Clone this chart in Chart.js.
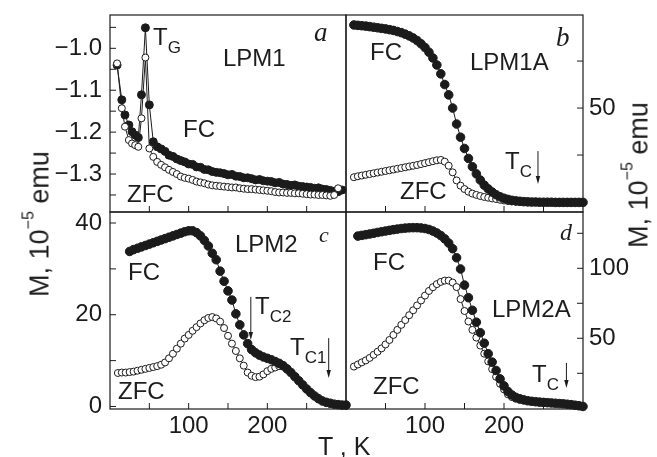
<!DOCTYPE html>
<html>
<head>
<meta charset="utf-8">
<script src="https://cdn.jsdelivr.net/npm/chart.js@4.4.1/dist/chart.umd.min.js"></script>
<style>
  html, body { margin: 0; padding: 0; background: #fff; }
  #page { position: relative; width: 657px; height: 457px; overflow: hidden; }
  #page canvas { position: absolute; left: 0; top: 0; }
  .lbl { position: absolute; font-family: 'Liberation Sans', Arial, sans-serif; font-size: 24px; line-height: 1; color: #1d1d1d; white-space: nowrap; }
  .lbl .sb { font-size: 17px; position: relative; top: 8px; }
  .it { font-family: 'Liberation Serif', serif; font-style: italic; font-size: 27px; }
  .ytitle { font-size: 27px; transform: translate(-50%, -50%) rotate(-90deg); }
  .ytitle .sp { font-size: 16px; position: relative; top: -15px; }
</style>
</head>
<body>
<div id="page">
  <canvas id="pa" width="657" height="457"></canvas>
  <canvas id="pb" width="657" height="457"></canvas>
  <canvas id="pc" width="657" height="457"></canvas>
  <canvas id="pd" width="657" height="457"></canvas>

  <!-- panel a -->
  <div class="lbl" style="left:153px;top:25px">T<span class="sb">G</span></div>
  <div class="lbl" style="left:223px;top:46px">LPM1</div>
  <div class="lbl it" style="left:314px;top:19px">a</div>
  <div class="lbl" style="left:183px;top:117px">FC</div>
  <div class="lbl" style="left:127px;top:182px">ZFC</div>
  <!-- panel b -->
  <div class="lbl" style="left:370px;top:40px">FC</div>
  <div class="lbl" style="left:470px;top:50px">LPM1A</div>
  <div class="lbl it" style="left:556px;top:24px">b</div>
  <div class="lbl" style="left:400px;top:179px">ZFC</div>
  <div class="lbl" style="left:505px;top:149px">T<span class="sb">C</span></div>
  <!-- panel c -->
  <div class="lbl" style="left:235px;top:232px">LPM2</div>
  <div class="lbl it" style="left:319px;top:224px;font-size:22px">c</div>
  <div class="lbl" style="left:128px;top:260px">FC</div>
  <div class="lbl" style="left:118px;top:379px">ZFC</div>
  <div class="lbl" style="left:255px;top:294px">T<span class="sb">C2</span></div>
  <div class="lbl" style="left:290px;top:335px">T<span class="sb">C1</span></div>
  <!-- panel d -->
  <div class="lbl" style="left:373px;top:250px">FC</div>
  <div class="lbl it" style="left:560px;top:220px;font-size:24px">d</div>
  <div class="lbl" style="left:492px;top:297px">LPM2A</div>
  <div class="lbl" style="left:373px;top:374px">ZFC</div>
  <div class="lbl" style="left:532px;top:362px">T<span class="sb">C</span></div>

  <!-- axis titles -->
  <div class="lbl ytitle" style="left:40px;top:224px">M, 10<span class="sp">−5</span> emu</div>
  <div class="lbl ytitle" style="left:639px;top:175px">M, 10<span class="sp">−5</span> emu</div>
  <div class="lbl" style="left:318px;top:434px;font-size:25px">T , K</div>
</div>

<script>
var ink = "#1b1b1b";
Chart.defaults.font.family = "'Liberation Sans', Arial, sans-serif";
Chart.defaults.color = ink;

// temperatures, K
const tempA = [9, 15, 19, 24, 28, 32, 36, 40, 45, 50, 55, 60, 65, 70, 75, 80, 85, 90, 95, 100,
  105, 110, 115, 120, 125, 130, 135, 140, 145, 150, 155, 160, 165, 170, 175, 180, 185, 190, 195, 200,
  205, 210, 215, 220, 225, 230, 235, 240, 245, 250, 255, 260, 265, 270, 275, 280, 285, 290, 295];
const tempGrid = [10, 15, 20, 25, 30, 35, 40, 45, 50, 55, 60, 65, 70, 75, 80, 85, 90, 95, 100, 105,
  110, 115, 120, 125, 130, 135, 140, 145, 150, 155, 160, 165, 170, 175, 180, 185, 190, 195, 200, 205,
  210, 215, 220, 225, 230, 235, 240, 245, 250, 255, 260, 265, 270, 275, 280, 285, 290, 295, 300];

// LPM1 (panel a)
const fcA = [-1.040, -1.123, -1.159, -1.183, -1.199, -1.207, -1.213, -1.111, -0.951, -1.135, -1.223,
  -1.235, -1.240, -1.246, -1.255, -1.258, -1.264, -1.268, -1.271, -1.276,
  -1.277, -1.283, -1.284, -1.289, -1.290, -1.294, -1.296, -1.297, -1.299, -1.302,
  -1.301, -1.305, -1.306, -1.309, -1.309, -1.311, -1.314, -1.313, -1.316, -1.317,
  -1.318, -1.321, -1.320, -1.324, -1.325, -1.327, -1.326, -1.329, -1.330, -1.331,
  -1.332, -1.334, -1.333, -1.336, -1.337, -1.339, -1.341, -1.342, -1.338];
const zfcA = [-1.036, -1.143, -1.187, -1.219, -1.227, -1.231, -1.235, -1.167, -1.022, -1.239, -1.259,
  -1.271, -1.278, -1.284, -1.290, -1.295, -1.300, -1.306, -1.309, -1.311,
  -1.314, -1.318, -1.320, -1.322, -1.325, -1.327, -1.328, -1.329, -1.330, -1.331,
  -1.332, -1.332, -1.334, -1.335, -1.336, -1.336, -1.337, -1.338, -1.339, -1.340,
  -1.341, -1.343, -1.344, -1.344, -1.345, -1.345, -1.346, -1.346, -1.347, -1.348,
  -1.349, -1.349, -1.350, -1.350, -1.351, -1.352, -1.350, -1.334];

// LPM1A (panel b)
const fcB = [94.2, 94.0, 93.8, 93.6, 93.3, 93.0, 92.7, 92.4, 92.1, 91.7,
  91.3, 90.7, 90.1, 89.3, 88.4, 87.3, 85.9, 84.2, 82.2, 79.7,
  76.6, 72.9, 68.2, 62.5, 57.0, 50.0, 41.5, 34.5, 28.5, 23.2,
  18.8, 15.0, 11.7, 9.0, 7.0, 5.3, 3.9, 2.8, 2.0, 1.4,
  0.9, 0.6, 0.4, 0.2, 0.1, 0.0, 0.0, -0.1, -0.1, -0.1,
  -0.1, -0.2, -0.2, -0.2, -0.2, -0.2, -0.2, -0.2, -0.2];
const zfcB = [13.2, 13.7, 14.1, 14.5, 14.9, 15.3, 15.7, 16.1, 16.5, 16.9,
  17.3, 17.7, 18.1, 18.5, 18.9, 19.3, 19.7, 20.2, 20.7, 21.2,
  21.7, 22.2, 22.4, 21.5, 19.3, 15.8, 11.5, 8.7, 6.9, 5.5,
  4.5, 3.8, 3.2, 2.7, 2.3, 1.9, 1.6, 1.2, 0.8, 0.5,
  0.3, 0.2, 0.1];

// LPM2 (panel c)
const fcC = [null, null, null, 33.8, 34.2, 34.5, 34.8, 35.1, 35.4, 35.7,
  36.0, 36.3, 36.6, 36.9, 37.2, 37.5, 37.8, 38.1, 38.3, 38.3,
  37.9, 37.2, 36.2, 35.0, 33.4, 32.0, 29.5, 27.3, 25.2, 23.2,
  20.2, 17.8, 15.6, 13.7, 12.4, 11.7, 11.2, 10.8, 10.5, 10.2,
  9.8, 9.4, 8.9, 8.2, 7.4, 6.5, 5.6, 4.7, 3.8, 3.0,
  2.3, 1.7, 1.2, 0.9, 0.7, 0.5, 0.4, 0.3, 0.3];
const zfcC = [7.3, 7.4, 7.4, 7.5, 7.6, 7.8, 8.0, 8.2, 8.4, 8.6,
  8.8, 9.1, 9.6, 10.5, 11.5, 12.6, 13.7, 14.8, 15.6, 16.5,
  17.3, 18.1, 18.8, 19.3, 19.5, 19.2, 18.5, 17.1, 15.4, 13.7,
  12.1, 10.5, 8.9, 7.4, 6.7, 6.4, 6.5, 7.0, 7.7, 8.2,
  8.5, 8.8, 8.8];

// LPM2A (panel d)
const fcD = [null, 123.0, 123.5, 124.0, 124.5, 125.0, 125.6, 126.1, 126.6, 127.1,
  127.6, 128.0, 128.4, 128.7, 128.9, 129.0, 129.0, 128.8, 128.4, 127.7,
  126.6, 125.2, 123.4, 121.0, 118.0, 114.0, 107.5, 99.5, 88.0, 79.0,
  70.0, 61.5, 54.0, 46.5, 39.0, 33.0, 27.0, 21.0, 16.0, 12.0,
  9.5, 7.8, 6.8, 6.0, 5.4, 5.0, 4.7, 4.4, 4.2, 4.0,
  3.8, 3.6, 3.4, 3.2, 2.9, 2.6, 2.2, 1.8, 1.3];
const zfcD = [29.8, 31.3, 32.8, 34.2, 36.0, 38.2, 40.4, 42.8, 45.6, 48.8,
  52.4, 56.0, 59.6, 63.0, 66.5, 70.0, 73.5, 77.0, 80.5, 83.8,
  86.5, 88.7, 90.3, 91.2, 91.2, 89.8, 86.6, 78.0, 69.5, 62.0,
  56.0, 50.5, 44.8, 39.0, 33.5, 28.0, 22.5, 17.5, 13.5, 10.0,
  8.0, 6.8, 6.0];

// axis ticks (all drawn inward), and which of them carry a number
const xTicks = [50, 100, 150, 200, 250];
const xLabelled = [100, 200];
const yTicksA = [-1.35, -1.3, -1.25, -1.2, -1.15, -1.1, -1.05, -1.0, -0.95];
const yLabelledA = [-1.3, -1.2, -1.1, -1.0];
const yTicksB = [25, 50, 75];
const yLabelledB = [50];
const yTicksC = [0, 10, 20, 30, 40];
const yLabelledC = [0, 20, 40];
const yTicksD = [25, 50, 75, 100, 125];
const yLabelledD = [50, 100];

// T_C arrows: temperature, top and bottom in M units
const arrowsB = [{ t: 243, from: 27.1, to: 9.6 }];
const arrowsC = [{ t: 179, from: 23.9, to: 14.5 }, { t: 278, from: 14.9, to: 6.2 }];
const arrowsD = [{ t: 279, from: 32.4, to: 14.5 }];

const W = 657, H = 457;

const panelFrame = {
  id: "panelFrame",
  beforeDatasetsDraw(chart) {
    const { ctx, chartArea: a } = chart;
    const xs = chart.scales.x, ys = chart.scales.y;
    ctx.save();
    ctx.strokeStyle = ink;
    ctx.lineWidth = 1.2;
    ctx.strokeRect(a.left, a.top, a.right - a.left, a.bottom - a.top);
    ctx.lineWidth = 1;
    ctx.beginPath();
    xs.ticks.forEach((t) => {
      const px = xs.getPixelForValue(t.value);
      ctx.moveTo(px, a.bottom);
      ctx.lineTo(px, a.bottom - 6);
    });
    const onLeft = ys.position === "left";
    ys.ticks.forEach((t) => {
      const py = ys.getPixelForValue(t.value);
      const x0 = onLeft ? a.left : a.right;
      ctx.moveTo(x0, py);
      ctx.lineTo(x0 + (onLeft ? 6 : -6), py);
    });
    ctx.stroke();
    ctx.restore();
  },
  afterDatasetsDraw(chart, args, opts) {
    const { ctx } = chart;
    const xs = chart.scales.x, ys = chart.scales.y;
    (opts.arrows || []).forEach((ar) => {
      const px = xs.getPixelForValue(ar.t);
      const y0 = ys.getPixelForValue(ar.from);
      const y1 = ys.getPixelForValue(ar.to);
      ctx.save();
      ctx.strokeStyle = ink;
      ctx.fillStyle = ink;
      ctx.lineWidth = 1;
      ctx.beginPath();
      ctx.moveTo(px, y0);
      ctx.lineTo(px, y1 - 6);
      ctx.stroke();
      ctx.beginPath();
      ctx.moveTo(px - 2.2, y1 - 8);
      ctx.lineTo(px + 2.2, y1 - 8);
      ctx.lineTo(px, y1);
      ctx.closePath();
      ctx.fill();
      ctx.restore();
    });
  },
};

function series(temps, vals, filled, r) {
  return {
    data: vals.map((v, i) => ({ x: temps[i], y: v })),
    borderColor: ink,
    borderWidth: 1,
    pointRadius: r,
    pointBackgroundColor: filled ? ink : "#fff",
    pointBorderColor: ink,
    pointBorderWidth: 1,
    tension: 0,
    clip: false,
  };
}

// the scales must not push the plot area around: sizes are fixed
function noPad(s) {
  s.paddingTop = 0;
  s.paddingBottom = 0;
  s.paddingLeft = 0;
  s.paddingRight = 0;
}

function makePanel(id, area, yPos, yMin, yMax, yTicks, yLabelled, fmt, showX, datasets, arrows) {
  return new Chart(document.getElementById(id), {
    type: "line",
    data: { datasets: datasets },
    options: {
      responsive: false,
      animation: false,
      devicePixelRatio: 1,
      layout: {
        autoPadding: false,
        padding: {
          left: yPos === "left" ? 0 : area.left,
          right: yPos === "right" ? 0 : W - area.right,
          top: area.top,
          bottom: 0,
        },
      },
      plugins: {
        legend: { display: false },
        tooltip: { enabled: false },
        panelFrame: { arrows: arrows },
      },
      scales: {
        x: {
          type: "linear",
          position: "bottom",
          min: 0,
          max: 300,
          grid: { display: false, drawTicks: false },
          border: { display: false },
          afterBuildTicks: (s) => { s.ticks = xTicks.map((v) => ({ value: v })); },
          afterFit: (s) => { s.height = H - area.bottom; noPad(s); },
          ticks: {
            display: showX,
            autoSkip: false,
            padding: 3,
            font: { size: 24 },
            maxRotation: 0,
            callback: (v) => (xLabelled.includes(v) ? String(v) : ""),
          },
        },
        y: {
          type: "linear",
          position: yPos,
          min: yMin,
          max: yMax,
          grid: { display: false, drawTicks: false },
          border: { display: false },
          afterBuildTicks: (s) => { s.ticks = yTicks.map((v) => ({ value: v })); },
          afterFit: (s) => { s.width = yPos === "left" ? area.left : W - area.right; noPad(s); },
          ticks: {
            autoSkip: false,
            padding: yPos === "left" ? 8 : 6,
            font: { size: 24 },
            callback: (v) => (yLabelled.includes(v) ? fmt(v) : ""),
          },
        },
      },
    },
    plugins: [panelFrame],
  });
}

const minus = (v) => (v < 0 ? "\u2212" : "") + Math.abs(v).toFixed(1);
const plain = (v) => String(v);

makePanel("pa", { left: 110, right: 346, top: 15, bottom: 212 }, "left", -1.3906, -0.9205,
  yTicksA, yLabelledA, minus, false,
  [series(tempA, zfcA, false, 3.5), series(tempA, fcA, true, 4)], []);
makePanel("pb", { left: 346, right: 583, top: 15, bottom: 212 }, "right", -5.3, 99.5,
  yTicksB, yLabelledB, plain, false,
  [series(tempGrid, fcB, true, 4.3), series(tempGrid, zfcB, false, 3.5)], arrowsB);
makePanel("pc", { left: 110, right: 346, top: 212, bottom: 409 }, "left", -0.55, 42.4,
  yTicksC, yLabelledC, plain, true,
  [series(tempGrid, fcC, true, 4.3), series(tempGrid, zfcC, false, 3.5)], arrowsC);
makePanel("pd", { left: 346, right: 583, top: 212, bottom: 409 }, "right", -0.5, 140.2,
  yTicksD, yLabelledD, plain, true,
  [series(tempGrid, fcD, true, 4.3), series(tempGrid, zfcD, false, 3.5)], arrowsD);
</script>
</body>
</html>
